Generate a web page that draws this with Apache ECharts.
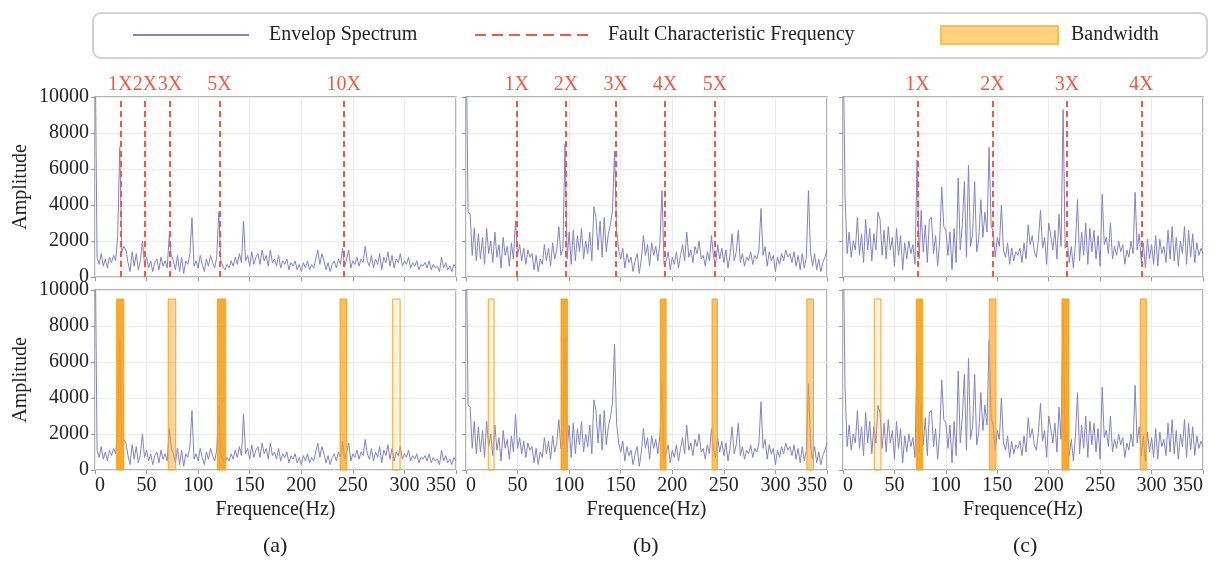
<!DOCTYPE html>
<html>
<head>
<meta charset="utf-8">
<title>Envelope spectrum</title>
<script src="https://cdn.jsdelivr.net/npm/echarts@6.0.0/dist/echarts.min.js"></script>
<style>
  html, body { margin: 0; padding: 0; background: #fff; }
  #chart { width: 1218px; height: 561px; }
</style>
</head>
<body>
<div id="chart"></div>
<script>
// spectrum bins are STEP Hz apart, starting at 0 Hz
const STEP = 2;

const specA = [
  14000, 1100, 700, 1300, 600, 1000, 500, 1100, 800, 1200,
  900, 2300, 7200, 1400, 1700, 1500, 800, 300, 1400, 600,
  1300, 400, 900, 2000, 700, 1100, 500, 900, 300, 800,
  1000, 400, 1100, 600, 900, 500, 2300, 1200, 900, 400,
  1200, 300, 1100, 200, 900, 700, 1300, 3300, 600, 900,
  500, 1200, 700, 300, 1000, 600, 1200, 800, 500, 1100,
  3600, 900, 600, 400, 700, 500, 900, 600, 1100, 700,
  1300, 800, 3100, 900, 1200, 600, 1400, 700, 1100, 1300,
  700, 1500, 900, 1200, 600, 1500, 800, 1000, 600, 1200,
  500, 900, 700, 1000, 400, 800, 600, 900, 400, 700,
  300, 800, 500, 900, 400, 700, 500, 1000, 1500, 700,
  1300, 900, 400, 800, 300, 700, 900, 500, 1000, 700,
  1600, 600, 1000, 1500, 500, 900, 700, 1100, 600, 1000,
  800, 1700, 900, 600, 1200, 500, 1000, 700, 1300, 400,
  1100, 800, 1400, 600, 1200, 500, 1000, 800, 1300, 600,
  900, 700, 1100, 500, 800, 600, 900, 400, 700, 600,
  800, 500, 900, 400, 700, 500, 600, 300, 1100, 500,
  800, 400, 600, 300, 700, 500
];

const specB = [
  14000, 3600, 3500, 1200, 2700, 900, 2400, 1000, 2200, 700,
  2700, 1300, 2000, 800, 2500, 1100, 1800, 500, 2200, 1200,
  1700, 600, 1900, 1000, 3100, 1200, 1800, 900, 1600, 700,
  1500, 1100, 1300, 400, 1200, 300, 1000, 700, 1800, 900,
  1600, 600, 1900, 1000, 1500, 2800, 1200, 1600, 7400, 1000,
  2500, 700, 2600, 900, 2300, 1400, 2700, 1000, 2000, 1300,
  2500, 900, 3900, 3300, 1500, 3100, 1100, 3300, 1400, 2400,
  2900, 3700, 7000, 2600, 1500, 1000, 1600, 500, 1300, 800,
  1100, 300, 900, 1300, 200, 1000, 2300, 1200, 1800, 600,
  1900, 1200, 1700, 900, 1900, 4800, 700, 900, 1400, 400,
  1100, 700, 1400, 500, 1200, 1800, 900, 2500, 1100, 1500,
  800, 1700, 1300, 2000, 1000, 1200, 600, 1400, 900, 2300,
  1100, 700, 1800, 1000, 1600, 800, 1500, 500, 1200, 2400,
  900, 1400, 2600, 800, 1300, 600, 1100, 900, 1400, 700,
  1200, 1000, 1500, 3800, 1200, 1700, 600, 1400, 900, 1200,
  300, 1100, 700, 1300, 900, 1500, 1100, 1300, 800, 1400,
  600, 1200, 400, 1300, 500, 1100, 4800, 1400, 600, 1300,
  400, 1000, 300, 800, 1100, 1500
];

const specC = [
  14000, 4500, 1300, 2500, 1100, 2000, 1500, 3300, 1200, 2400,
  800, 3200, 1500, 2700, 900, 2400, 1500, 3600, 3200, 1200,
  2600, 1000, 2800, 1500, 2200, 600, 2700, 1200, 2300, 400,
  1900, 1000, 2000, 1300, 1800, 700, 6500, 1000, 3700, 1400,
  2900, 800, 3200, 3300, 1300, 2300, 600, 2000, 5000, 2800,
  2600, 1200, 2500, 400, 2700, 800, 5500, 1500, 2900, 5300,
  1100, 6200, 1700, 2400, 5300, 1400, 2100, 4300, 2200, 3600,
  2500, 7200, 2900, 2500, 1100, 2200, 1700, 4000, 1500, 1100,
  1900, 700, 1600, 900, 1400, 1200, 1600, 800, 1900, 1000,
  2900, 1800, 2300, 1400, 1100, 2100, 3700, 1600, 2200, 700,
  3000, 2300, 1500, 2600, 1000, 3500, 1700, 9300, 1600, 2000,
  800, 1700, 500, 1900, 4300, 900, 2500, 1200, 3000, 700,
  2700, 1400, 2600, 1000, 2300, 600, 4600, 1800, 2200, 1300,
  3000, 1000, 1700, 1200, 2000, 1400, 1800, 700, 1500, 1100,
  2000, 1300, 4700, 1500, 2400, 800, 1900, 500, 2100, 1000,
  1800, 700, 2300, 600, 2100, 1300, 1700, 800, 2600, 1000,
  2800, 900, 2200, 600, 2000, 1300, 2800, 700, 2600, 1100,
  2400, 800, 1900, 1200, 1600, 1300
];

// fault characteristic frequencies (Hz) and their harmonic labels
const faultA = [24.5, 48.5, 72.7, 120.8, 241.2];
const faultLabelsA = ['1X', '2X', '3X', '5X', '10X'];
const faultB = [49.2, 97, 145.2, 193, 241.5];
const faultLabelsB = ['1X', '2X', '3X', '4X', '5X'];
const faultC = [72.5, 145.4, 217.8, 290];
const faultLabelsC = ['1X', '2X', '3X', '4X'];

// selected bands (Hz) and their weights
const bandsA = [[21, 28], [71, 78.3], [118.6, 126.8], [237.6, 244.1], [288.7, 295.8]];
const bandWeightA = [0.9, 0.45, 0.9, 0.7, 0.12];
const bandsB = [[21.6, 27.2], [92.1, 98.3], [188.5, 194], [238.6, 243.7], [330.5, 336.9]];
const bandWeightB = [0.12, 0.9, 0.85, 0.65, 0.5];
const bandsC = [[30.4, 36.9], [71.3, 77.4], [142.2, 148.7], [212.9, 219.7], [289, 294.9]];
const bandWeightC = [0.12, 0.9, 0.65, 0.9, 0.6];
const BAND_TOP = 9500;

const xTicks = [0, 50, 100, 150, 200, 250, 300, 350];
const yTicks = [0, 2000, 4000, 6000, 8000, 10000];

const FONT = '"Liberation Serif", "Times New Roman", serif';
const LINE_COLOR = '#8282cc';
const FAULT_COLOR = '#f15a40';
const BAND_RGB = '247,160,27';

const cols = [{ left: 95, width: 361 }, { left: 466, width: 361 }, { left: 843, width: 360 }];
const rows = [{ top: 97, height: 180 }, { top: 290, height: 180 }];

const specs = [specA, specB, specC];
const faults = [faultA, faultB, faultC];
const faultLabels = [faultLabelsA, faultLabelsB, faultLabelsC];
const bands = [bandsA, bandsB, bandsC];
const bandWeights = [bandWeightA, bandWeightB, bandWeightC];

const grids = [], xAxes = [], yAxes = [], series = [];

rows.forEach((r, ri) => {
  cols.forEach((c, ci) => {
    const gi = ri * 3 + ci;
    grids.push({
      left: c.left, top: r.top, width: c.width, height: r.height,
      show: true, borderColor: '#9c9c9c', borderWidth: 1.5, backgroundColor: '#fff'
    });
    xAxes.push({
      type: 'value', gridIndex: gi,
      min: xTicks[0], max: xTicks[xTicks.length - 1], interval: 50,
      name: ri === 1 ? 'Frequence(Hz)' : '',
      nameLocation: 'middle', nameGap: 30,
      nameTextStyle: { fontFamily: FONT, fontSize: 20, color: '#222' },
      axisLine: { show: false },
      axisTick: { show: true, length: 4, lineStyle: { color: '#999' } },
      axisLabel: {
        show: ri === 1, fontFamily: FONT, fontSize: 20, color: '#222', margin: 6,
        alignMinLabel: 'left', alignMaxLabel: 'right',
        formatter: v => String(v)
      },
      splitLine: { show: true, lineStyle: { color: '#ececec', width: 1 } }
    });
    yAxes.push({
      type: 'value', gridIndex: gi,
      min: yTicks[0], max: yTicks[yTicks.length - 1], interval: 2000,
      name: ci === 0 ? 'Amplitude' : '',
      nameLocation: 'middle', nameGap: 64,
      nameTextStyle: { fontFamily: FONT, fontSize: 20, color: '#222' },
      axisLine: { show: false },
      axisTick: { show: true, length: 4, lineStyle: { color: '#999' } },
      axisLabel: {
        show: ci === 0, fontFamily: FONT, fontSize: 20, color: '#222', margin: 6,
        formatter: v => String(v)
      },
      splitLine: { show: true, lineStyle: { color: '#ececec', width: 1 } }
    });
    series.push({
      name: 'Envelop Spectrum', type: 'line', xAxisIndex: gi, yAxisIndex: gi,
      data: specs[ci].map((v, i) => [i * STEP, v]),
      symbol: 'none', showSymbol: false, clip: true, z: 2,
      itemStyle: { color: LINE_COLOR },
      lineStyle: { color: LINE_COLOR, width: 1 }
    });
  });
});

// dashed fault frequency lines on the top row
faults.forEach((f, ci) => {
  series.push({
    name: 'Fault Characteristic Frequency', type: 'line', xAxisIndex: ci, yAxisIndex: ci,
    data: [], symbol: 'none',
    itemStyle: { color: FAULT_COLOR },
    lineStyle: { color: FAULT_COLOR, type: [6, 4], width: 2 },
    markLine: {
      silent: true, symbol: ['none', 'none'], animation: false,
      lineStyle: { color: FAULT_COLOR, type: [6, 4], width: 2 },
      label: {
        show: true, position: 'end', formatter: '{b}', distance: 2,
        color: FAULT_COLOR, fontFamily: FONT, fontSize: 20
      },
      data: f.map((v, i) => ({ xAxis: v, name: faultLabels[ci][i] }))
    }
  });
});

// bandwidth areas on the bottom row
bands.forEach((b, ci) => {
  series.push({
    name: 'Bandwidth', type: 'bar', xAxisIndex: 3 + ci, yAxisIndex: 3 + ci,
    data: [], z: 3,
    itemStyle: { color: '#ffd27f', borderColor: '#f7bf55', borderWidth: 1 },
    markArea: {
      silent: true, z: 3, animation: false,
      data: b.map((d, i) => [
        {
          xAxis: d[0], yAxis: 0,
          itemStyle: { color: 'rgba(' + BAND_RGB + ',' + bandWeights[ci][i] + ')', borderColor: '#f5a623', borderWidth: 1 }
        },
        { xAxis: d[1], yAxis: BAND_TOP }
      ])
    }
  });
});

const legendText = { fontFamily: FONT, fontSize: 20, color: '#222' };

const option = {
  animation: false,
  backgroundColor: '#fff',
  grid: grids,
  xAxis: xAxes,
  yAxis: yAxes,
  legend: [
    {
      data: ['Envelop Spectrum'], left: 132, top: 25, padding: 0,
      itemWidth: 116, itemHeight: 20,
      itemStyle: { opacity: 0 },
      lineStyle: { width: 2 },
      textStyle: Object.assign({ padding: [0, 0, 0, 15] }, legendText)
    },
    {
      data: ['Fault Characteristic Frequency'], left: 474, top: 25, padding: 0,
      itemWidth: 116, itemHeight: 20,
      itemStyle: { opacity: 0 },
      lineStyle: { width: 2, type: [11, 6] },
      textStyle: Object.assign({ padding: [0, 0, 0, 12] }, legendText)
    },
    {
      data: [{ name: 'Bandwidth', icon: 'rect' }], left: 940, top: 25, padding: 0,
      itemWidth: 117, itemHeight: 18,
      textStyle: Object.assign({ padding: [0, 0, 0, 8] }, legendText)
    }
  ],
  graphic: [
    {
      type: 'rect', left: 92, top: 12, z: 0, silent: true,
      shape: { width: 1114, height: 45, r: 8 },
      style: { fill: '#fff', stroke: '#d2d2d2', lineWidth: 2 }
    },
    { type: 'text', left: 263, top: 535, style: { text: '(a)', font: '22px ' + FONT, fill: '#222' } },
    { type: 'text', left: 633, top: 535, style: { text: '(b)', font: '22px ' + FONT, fill: '#222' } },
    { type: 'text', left: 1013, top: 535, style: { text: '(c)', font: '22px ' + FONT, fill: '#222' } }
  ],
  series: series
};

const chart = echarts.init(document.getElementById('chart'));
chart.setOption(option);
</script>
</body>
</html>
